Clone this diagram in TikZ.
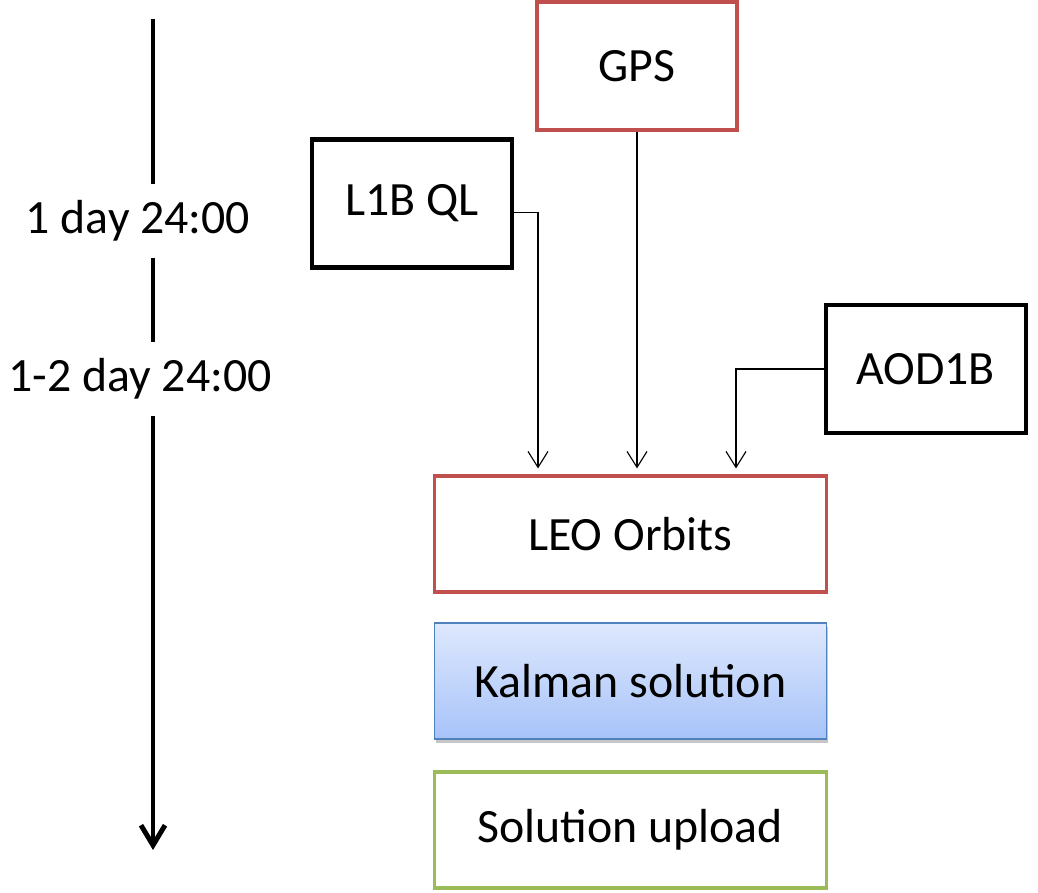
\documentclass[tikz,border=0pt]{standalone}
\usepackage{fontspec}
\setmainfont{Carlito}
\usetikzlibrary{arrows.meta,shadows}
\definecolor{boxred}{HTML}{C0504D}
\definecolor{boxgreen}{HTML}{9BBB59}
\definecolor{boxblue}{HTML}{4F81BD}
\definecolor{kaltop}{HTML}{DEE8FD}
\definecolor{kalbot}{HTML}{A7C3F9}
\tikzset{
	databox/.style={draw, line width=2.2pt, minimum width=5cm, minimum height=3.2cm, font=\fontsize{34}{40}\selectfont},
	stagebox/.style={draw, line width=2.2pt, minimum width=9.8cm, minimum height=2.9cm, font=\fontsize{34}{40}\selectfont},
	flow/.style={line width=0.8pt, -{Straight Barb[length=4mm,width=5mm]}, shorten >=0.15cm},
	timelabel/.style={inner xsep=0pt, inner ysep=0.4cm, font=\fontsize{34}{40}\selectfont}
}
\begin{document}
\begin{tikzpicture}
		\useasboundingbox (0,0) rectangle (25.95,-22.325);
		% Time line
		\coordinate (TimeStart) at (3.825,-0.47);
		\coordinate (TimeEnd) at (3.825,-21.25);
		\node[timelabel] (Day1) at (3.45,-5.52) {1 day 24:00};
		\node[timelabel] (Day2) at (3.5,-9.47) {1-2 day 24:00};
		\draw[line width=3.5pt] (TimeStart) -- (TimeStart |- Day1.north);
		\draw[line width=3.5pt] (TimeStart |- Day1.south) -- (TimeStart |- Day2.north);
		\draw[line width=3.5pt, -{Straight Barb[length=5mm,width=6mm]}] (TimeStart |- Day2.south) -- (TimeEnd);

		% Inputs
		\node[databox, draw=boxred] (GPS) at (15.925,-1.65) {GPS};
		\node[databox, line width=3pt] (L1B) at (10.3,-5.09) {L1B QL};
		\node[databox, line width=3pt] (AOD) at (23.14,-9.225) {AOD1B};

		% Processing
		\node[stagebox, draw=boxred] (LEO) at (15.76,-13.35) {LEO Orbits};
		\node[stagebox, line width=0.8pt, draw=boxblue, top color=kaltop, bottom color=kalbot,
			drop shadow={shadow xshift=0.04cm, shadow yshift=-0.09cm, opacity=0.45}] (Kalman) at (15.76,-17.025) {Kalman solution};
		\node[stagebox, draw=boxgreen] (Upload) at (15.76,-20.75) {Solution upload};

		\draw[flow] ([yshift=-0.23cm]L1B.east) -| ([xshift=-2.31cm]LEO.north);
		\draw[flow] (GPS.south) -- (GPS.south |- LEO.north);
		\draw[flow] (AOD.west) -| ([xshift=2.64cm]LEO.north);
	\end{tikzpicture}
\end{document}
